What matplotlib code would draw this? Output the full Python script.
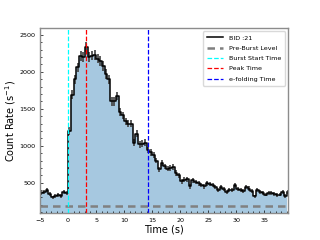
import numpy as np
import matplotlib

matplotlib.use("Agg")
import matplotlib.pyplot as plt

# light curve, 0.5 s bins (bin start times)
time = np.arange(-5.0, 39.5, 0.5)
rate = [
    360, 380, 400, 350, 300, 320, 330, 320, 370, 360,
    1200, 1690, 1900, 2060, 2210, 2200, 2340, 2200, 2220, 2230,
    2180, 2150, 2080, 1970, 1900, 1600, 1600, 1670, 1460, 1410,
    1330, 1300, 1300, 1040, 1160, 1020, 1030, 1040, 940, 910,
    870, 800, 680, 770, 720, 690, 700, 710, 630, 600,
    520, 540, 545, 450, 530, 510, 490, 470, 450, 490,
    480, 470, 440, 400, 445, 410, 370, 400, 400, 470,
    410, 400, 390, 440, 420, 390, 315, 400, 380, 360,
    340, 355, 355, 345, 335, 340, 380, 320, 380,
]
rate = np.array(rate, dtype=float)
err = np.sqrt(rate * 2.0)

bid = 21
pre_burst = 178.0
t_start = 0.0
t_peak = 3.2
t_efold = 14.2

fig = plt.figure(figsize=(3.2, 2.4), dpi=100)
ax = fig.add_axes([0.125, 0.1125, 0.775, 0.77])

ax.fill_between(time, 0, rate, step="post", color="#a6c8e0", lw=0)
ax.errorbar(time + 0.25, rate, yerr=err, fmt="none", ecolor="0.25", elinewidth=1.2, capsize=0)
ax.step(time, rate, where="post", color="black", lw=1.1, label=f"BID :{bid}")
ax.axhline(pre_burst, color="gray", ls=(0, (3, 2)), lw=1.8, label="Pre-Burst Level")
ax.axvline(t_start, color="cyan", ls="--", lw=0.9, label="Burst Start Time")
ax.axvline(t_peak, color="red", ls="--", lw=0.9, label="Peak Time")
ax.axvline(t_efold, color="blue", ls="--", lw=0.9, label="e-folding Time")

ax.set_xlim(-5, 39.2)
ax.set_ylim(90, 2590)
ax.set_xticks([-5, 0, 5, 10, 15, 20, 25, 30, 35])
ax.set_yticks([500, 1000, 1500, 2000, 2500])
ax.minorticks_on()
ax.tick_params(which="both", direction="in", labelsize=4.6, width=0.5)
ax.tick_params(which="major", length=2.5)
ax.tick_params(which="minor", length=1.2)
for sp in ax.spines.values():
    sp.set_color("0.55")
    sp.set_linewidth(1.0)

ax.set_xlabel("Time (s)", fontsize=7, labelpad=1)
ax.set_ylabel("Count Rate (s$^{-1}$)", fontsize=7, labelpad=1)
ax.legend(loc="upper right", fontsize=4.6, handlelength=2.6, borderpad=0.6,
          labelspacing=0.75, framealpha=1, edgecolor="0.85")

fig.savefig("out.png", dpi=100)
plt.close(fig)
